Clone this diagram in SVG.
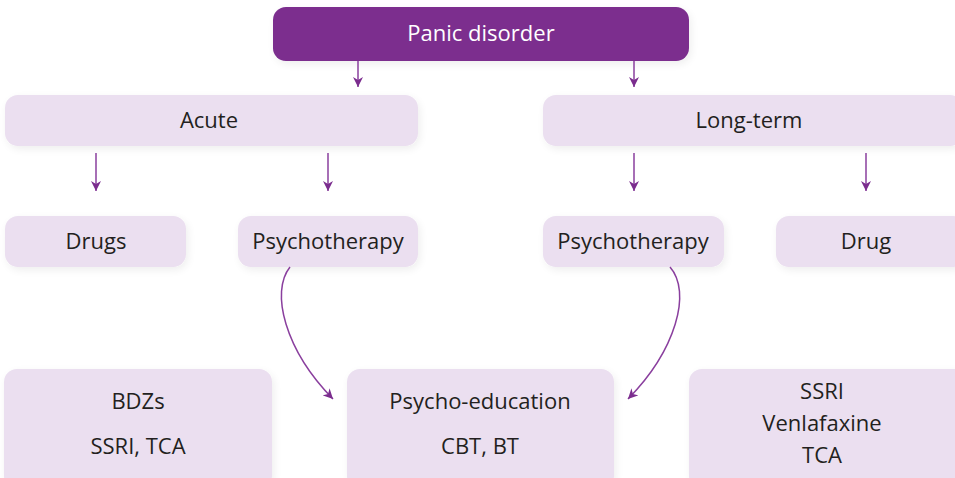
<svg xmlns="http://www.w3.org/2000/svg" width="955" height="478" viewBox="0 0 955 478">
<defs>
<filter id="sh" x="-10%" y="-20%" width="125%" height="150%">
<feGaussianBlur in="SourceAlpha" stdDeviation="4"/>
<feOffset dx="2" dy="3" result="b"/>
<feComponentTransfer><feFuncA type="linear" slope="0.07"/></feComponentTransfer>
<feMerge><feMergeNode/><feMergeNode in="SourceGraphic"/></feMerge>
</filter>
<marker id="ah" viewBox="0 0 10 10" refX="10" refY="5" markerWidth="10" markerHeight="10" markerUnits="userSpaceOnUse" orient="auto">
<path d="M0,0 L10,5 L0,10 L3,5 z" fill="#7b2d8e"/>
</marker>
<style>
.n{fill:#ebdff0;filter:url(#sh)}
.t{font-family:"Open Sans","Noto Sans",sans-serif;font-size:22px;fill:#231f20;text-anchor:middle}
.c{fill:none;stroke:#8a3f9e;stroke-width:1.5;marker-end:url(#ah)}
</style>
</defs>
<rect width="955" height="478" fill="#ffffff"/>
<g id="panic">
<rect x="273" y="7" width="416" height="54" rx="13" fill="#7b2d8e" filter="url(#sh)"/>
<text x="481" y="41" class="t" style="fill:#ffffff">Panic disorder</text>
</g>
<g id="acute">
<rect class="n" x="5" y="95" width="413" height="51" rx="13"/>
<text x="209" y="128" class="t">Acute</text>
</g>
<g id="longterm">
<rect class="n" x="543" y="95" width="420" height="51" rx="13"/>
<text x="749" y="128" class="t">Long-term</text>
</g>
<g id="drugs">
<rect class="n" x="5" y="216" width="181" height="51" rx="13"/>
<text x="96" y="249" class="t">Drugs</text>
</g>
<g id="psycho1">
<rect class="n" x="238" y="216" width="180" height="51" rx="13"/>
<text x="328" y="249" class="t">Psychotherapy</text>
</g>
<g id="psycho2">
<rect class="n" x="543" y="216" width="181" height="51" rx="13"/>
<text x="633" y="249" class="t">Psychotherapy</text>
</g>
<g id="drug">
<rect class="n" x="776" y="216" width="190" height="51" rx="13"/>
<text x="866" y="249" class="t">Drug</text>
</g>
<g id="bdzs">
<rect class="n" x="4" y="369" width="268" height="120" rx="13"/>
<text x="138" y="409" class="t">BDZs</text>
<text x="138" y="454" class="t">SSRI, TCA</text>
</g>
<g id="psychoed">
<rect class="n" x="347" y="369" width="267" height="120" rx="13"/>
<text x="480" y="409" class="t">Psycho-education</text>
<text x="480" y="454" class="t">CBT, BT</text>
</g>
<g id="ssri">
<rect class="n" x="689" y="369" width="280" height="120" rx="13"/>
<text x="822" y="399" class="t">SSRI</text>
<text x="822" y="431" class="t">Venlafaxine</text>
<text x="822" y="463" class="t">TCA</text>
</g>
<g id="connectors">
<path class="c" d="M358,61 V87"/>
<path class="c" d="M634,61 V87"/>
<path class="c" d="M96,153 V191"/>
<path class="c" d="M328,153 V191"/>
<path class="c" d="M634,153 V191"/>
<path class="c" d="M866,153 V191"/>
<path class="c" d="M290,267 C270,292 285,350 333,399"/>
<path class="c" d="M670,267 C692,292 676,350 628,399"/>
</g>
</svg>
